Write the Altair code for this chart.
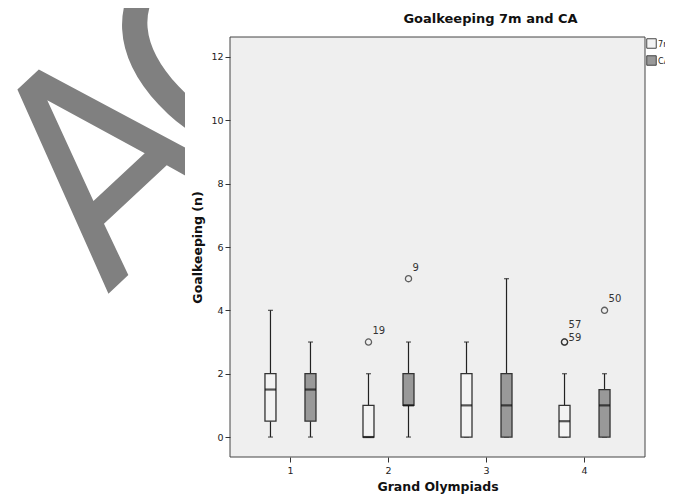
import altair as alt
import pandas as pd

# ---- data ----
groups = ["1", "2", "3", "4"]
series = ["7m", "CA"]

box_group = ["1", "1", "2", "2", "3", "3", "4", "4"]
box_series = ["7m", "CA", "7m", "CA", "7m", "CA", "7m", "CA"]
whisk_lo = [0, 0, 0, 0, 0, 0, 0, 0]
q1 = [0.5, 0.5, 0, 1, 0, 0, 0, 0]
median = [1.5, 1.5, 0, 1, 1, 1, 0.5, 1]
q3 = [2, 2, 1, 2, 2, 2, 1, 1.5]
whisk_hi = [4, 3, 2, 3, 3, 5, 2, 2]

out_group = ["2", "2", "4", "4", "4"]
out_series = ["7m", "CA", "7m", "7m", "CA"]
out_value = [3, 5, 3, 3, 4]
out_label = ["19", "9", "57", "59", "50"]

title_text = "Goalkeeping 7m and CA"
x_title = "Grand Olympiads"
y_title = "Goalkeeping (n)"
y_ticks = [0, 2, 4, 6, 8, 10, 12]
watermark_letters = ["A", "C"]

boxes = pd.DataFrame({
    "group": box_group, "series": box_series, "lo": whisk_lo,
    "q1": q1, "med": median, "q3": q3, "hi": whisk_hi,
})
outl = pd.DataFrame({
    "group": out_group, "series": out_series, "value": out_value, "label": out_label,
})

W, H = 415, 420
FILL = {"7m": "#F3F3F3", "CA": "#999999"}

xscale = alt.Scale(domain=groups, paddingInner=0, paddingOuter=0.117)
xoff = alt.XOffset("series:N", scale=alt.Scale(domain=series, paddingInner=0, paddingOuter=0.225))
yscale = alt.Scale(domain=[-0.63, 12.63], nice=False, zero=False)

X = alt.X("group:N", scale=xscale, title=x_title,
          axis=alt.Axis(labelAngle=0, zindex=1, domain=False, tickColor="#333",
                        tickSize=5, labelFontSize=9.5, labelColor="#222",
                        labelFont="DejaVu Sans", titleFont="DejaVu Sans",
                        titleFontSize=12.5, titleFontWeight="bold", titleColor="#111",
                        titlePadding=6, labelPadding=3))
Yaxis = alt.Axis(values=y_ticks, zindex=1, domain=False, grid=False, tickColor="#333",
                 tickSize=5, labelFontSize=9.5, labelColor="#222", labelFont="DejaVu Sans",
                 titleFont="DejaVu Sans", titleFontSize=12.5, titleFontWeight="bold",
                 titleColor="#111", titlePadding=6, labelPadding=2)

one = alt.Data(values=[{"k": 1}])
WM_FONT = "DejaVu Sans Condensed, DejaVu Sans"

wm_a = alt.Chart(one).mark_text(
    text=watermark_letters[0], font=WM_FONT, fontSize=290, angle=317,
    align="left", baseline="alphabetic", color="#808080"
).encode(x=alt.value(-123), y=alt.value(258))
wm_c = alt.Chart(one).mark_text(
    text=watermark_letters[1], font=WM_FONT, fontSize=290, angle=317,
    align="left", baseline="alphabetic", color="#808080"
).encode(x=alt.value(-10), y=alt.value(155))

white = alt.Chart(one).mark_rect(color="white").encode(
    x=alt.value(-45), x2=alt.value(W + 100), y=alt.value(-40), y2=alt.value(H + 60))

panel = alt.Chart(one).mark_rect(fill="#EFEFEF", stroke="#444", strokeWidth=1).encode(
    x=alt.value(0), x2=alt.value(W), y=alt.value(0), y2=alt.value(H))

title_mark = alt.Chart(one).mark_text(
    text=title_text, font="DejaVu Sans", fontSize=13, fontWeight="bold", color="#111",
    align="center", baseline="alphabetic"
).encode(x=alt.value(W / 2 + 53), y=alt.value(-14))

base = alt.Chart(boxes)

whisk_up = base.mark_rule(color="#222", strokeWidth=1.2).encode(
    x=X, xOffset=xoff, y=alt.Y("q3:Q", scale=yscale, title=y_title, axis=Yaxis), y2="hi:Q")
whisk_dn = base.mark_rule(color="#222", strokeWidth=1.2).encode(
    x=X, xOffset=xoff, y=alt.Y("lo:Q", scale=yscale), y2="q1:Q")
cap_hi = base.mark_tick(color="#222", size=5, thickness=1.3).encode(
    x=X, xOffset=xoff, y=alt.Y("hi:Q", scale=yscale))
cap_lo = base.mark_tick(color="#222", size=5, thickness=1.3).encode(
    x=X, xOffset=xoff, y=alt.Y("lo:Q", scale=yscale))
box = base.mark_bar(size=11, stroke="#333", strokeWidth=1.3).encode(
    x=X, xOffset=xoff, y=alt.Y("q1:Q", scale=yscale), y2="q3:Q",
    fill=alt.Fill("series:N", scale=alt.Scale(domain=series, range=[FILL[s] for s in series]),
                  legend=alt.Legend(title=None, orient="none", legendX=416, legendY=1,
                                    symbolType="square", symbolSize=90,
                                    symbolStrokeColor="#444", symbolStrokeWidth=1,
                                    labelFontSize=9, labelFont=WM_FONT,
                                    labelColor="#222", rowPadding=2, labelOffset=1)))
med = base.mark_tick(color="#111", size=11, thickness=2.2).encode(
    x=X, xOffset=xoff, y=alt.Y("med:Q", scale=yscale))

ob = alt.Chart(outl).transform_window(
    rk="row_number()", groupby=["group", "series", "value"]
).transform_joinaggregate(n="count()", groupby=["group", "series", "value"])

pts = ob.mark_point(shape="circle", filled=False, size=38, color="#222", strokeWidth=1.3).encode(
    x=X, xOffset=xoff, y=alt.Y("value:Q", scale=yscale))

def lab(cond, dy):
    return ob.transform_filter(cond).mark_text(
        align="left", baseline="middle", dx=4, dy=dy, fontSize=10,
        font="DejaVu Sans", color="#333"
    ).encode(x=X, xOffset=xoff, y=alt.Y("value:Q", scale=yscale), text="label:N")

lab_single = lab("datum.n == 1", -11)
lab_first = lab("datum.n > 1 && datum.rk == 1", -17)
lab_second = lab("datum.n > 1 && datum.rk == 2", -4)

chart = alt.layer(
    wm_a, wm_c, white, panel, title_mark, whisk_up, whisk_dn, cap_hi, cap_lo, box, med, pts,
    lab_single, lab_first, lab_second
).properties(
    width=W, height=H,
    autosize=alt.AutoSizeParams(type="none"),
    padding={"left": 222, "top": 29, "right": 20, "bottom": 37},
).configure_view(stroke=None, fill=None).configure(background="white")

chart.save("out.html", embed_options={"renderer": "svg", "actions": False})
